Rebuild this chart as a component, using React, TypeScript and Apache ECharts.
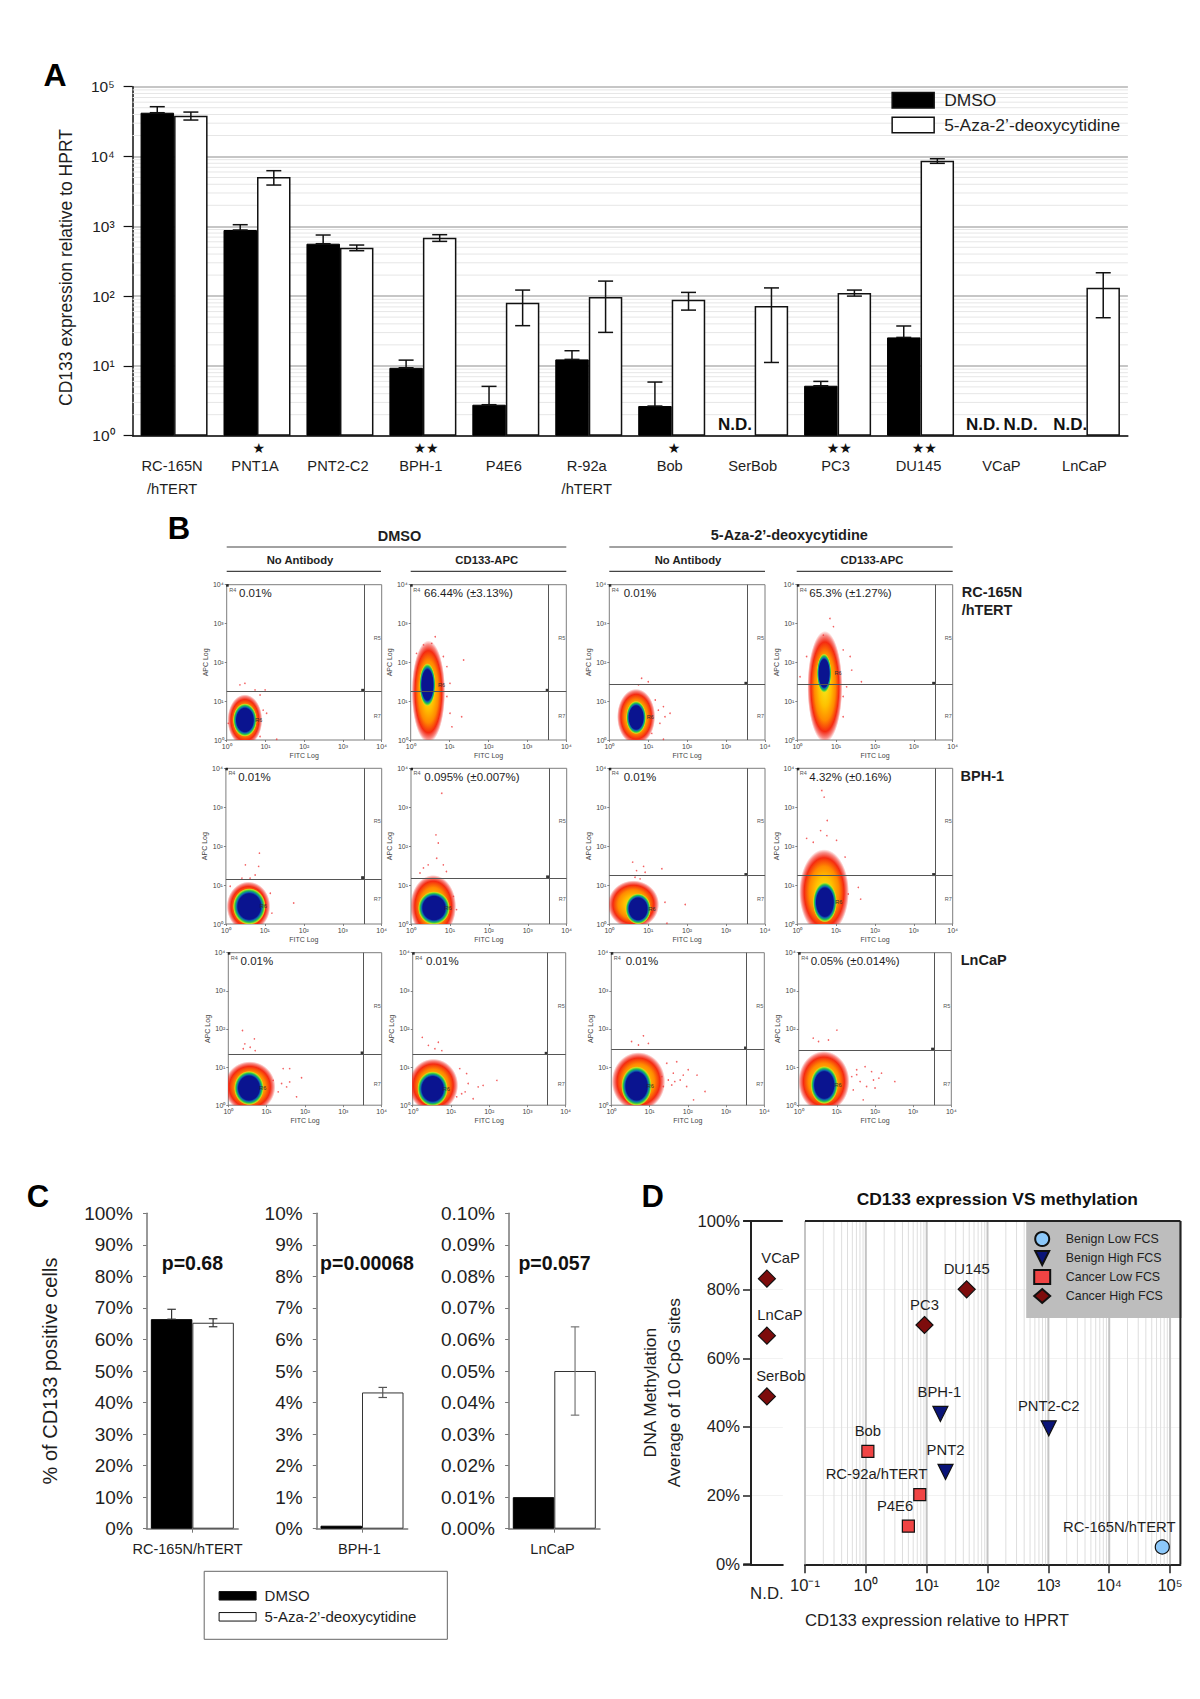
import React, { useEffect, useRef } from "react";
import * as echarts from "echarts";

const FONT = '"Liberation Sans", Arial, sans-serif';
const DMSO = "DMSO";
const AZA = "5-Aza-2’-deoxycytidine";

// Panel A
const cellLines = ["RC-165N\n/hTERT", "PNT1A", "PNT2-C2", "BPH-1", "P4E6", "R-92a\n/hTERT", "Bob", "SerBob", "PC3", "DU145", "VCaP", "LnCaP"];
const dmsoValues = [42400, 885, 563, 9.4, 2.78, 12.4, 2.66, null, 5.2, 25.6, null, null];
const dmsoErrHigh = [51700, 1054, 750, 12.1, 5.09, 16.5, 5.87, null, 6.0, 37.3, null, null];
const azaValues = [38400, 5080, 494, 686, 80.4, 97, 88.8, 72, 110.6, 8710, null, 132];
const azaErrHigh = [43300, 6260, 539, 758, 122, 164, 113, 131, 122, 9290, null, 216];
const azaErrLow = [33300, 3900, 447, 608, 37.7, 30.2, 63, 11.2, 100, 7980, null, 49];
const decades = [1, 10, 100, 1000, 10000];
const minorMultipliers = [2, 3, 4, 5, 6, 7, 8, 9];
const notDetected = "N.D.";
const singleStar = "★";
const doubleStar = "★★";

// Panel B: density contours and stray events, in decades of FITC (x) and APC (y)
const plotPercents = [
  "0.01%", "66.44% (±3.13%)", "0.01%", "65.3% (±1.27%)",
  "0.01%", "0.095% (±0.007%)", "0.01%", "4.32% (±0.16%)",
  "0.01%", "0.01%", "0.01%", "0.05% (±0.014%)",
];
const plotGateY = [1.25, 1.25, 1.43, 1.43, 1.16, 1.18, 1.24, 1.24, 1.34, 1.33, 1.47, 1.44];
const plotGateX = [3.54, 3.54, 3.54, 3.54, 3.54, 3.54, 3.54, 3.54, 3.52, 3.52, 3.54, 3.54];
const plotHalos = [
  [0.47, 0.515, 0.45, 0.66], [0.455, 1.245, 0.43, 1.32], [0.69, 0.6, 0.49, 0.72], [0.71, 1.37, 0.45, 1.44],
  [0.58, 0.45, 0.56, 0.64], [0.57, 0.45, 0.59, 0.81], [0.62, 0.5, 0.66, 0.62], [0.69, 0.82, 0.64, 1.1],
  [0.56, 0.48, 0.67, 0.67], [0.54, 0.52, 0.65, 0.7], [0.71, 0.62, 0.7, 0.77], [0.66, 0.62, 0.67, 0.8],
];
const plotCores = [
  [0.47, 0.515, 0.31, 0.43], [0.43, 1.42, 0.21, 0.56], [0.69, 0.58, 0.26, 0.43], [0.69, 1.72, 0.19, 0.51],
  [0.6, 0.45, 0.42, 0.47], [0.59, 0.41, 0.41, 0.43], [0.74, 0.39, 0.33, 0.4], [0.71, 0.56, 0.31, 0.52],
  [0.54, 0.45, 0.39, 0.45], [0.52, 0.43, 0.4, 0.46], [0.66, 0.5, 0.4, 0.52], [0.67, 0.53, 0.36, 0.5],
];
const plotStrayEvents = [
  [[0.34, 1.42], [0.47, 1.46], [0.73, 1.29], [0.86, 1.16], [0.99, 1.29], [0.94, 0.77], [1.03, 0.69], [0.04, 0.43], [0.86, 0.09], [1.29, 0.02]],
  [[0.63, 2.66], [0.54, 2.49], [0.33, 2.45], [0.15, 2.23], [0.84, 2.15], [0.93, 1.89], [1.36, 2.06], [1.01, 1.46], [0.93, 1.12], [1.01, 0.69], [1.31, 0.6], [1.06, 0.34]],
  [[0.83, 1.59], [0.75, 1.42], [1.0, 1.5], [1.18, 1.03], [1.39, 0.86], [1.56, 0.69], [1.43, 0.6], [1.26, 0.77], [1.3, 0.43], [1.09, 0.17], [1.39, 0.02]],
  [[0.84, 3.13], [0.93, 2.92], [0.67, 2.7], [1.18, 2.32], [1.36, 2.15], [1.4, 1.8], [1.65, 1.5], [1.27, 1.37], [1.18, 1.12], [0.07, 1.63], [0.24, 2.15], [1.18, 0.6]],
  [[0.86, 1.82], [0.84, 1.48], [0.5, 1.52], [0.75, 1.26], [0.62, 1.18], [0.41, 1.18], [1.14, 0.79], [1.74, 0.54], [1.18, 0.28], [0.11, 0.97]],
  [[0.79, 3.36], [0.64, 2.29], [0.7, 2.08], [0.66, 1.69], [0.44, 1.52], [0.83, 1.52], [0.32, 1.44], [0.91, 1.35], [0.23, 1.31], [1.09, 0.71], [1.17, 0.37]],
  [[0.6, 1.59], [0.88, 1.48], [0.7, 1.37], [0.92, 1.33], [1.35, 1.42], [0.66, 1.2], [0.79, 1.16], [1.43, 0.56], [1.95, 0.5], [1.48, 0.02]],
  [[0.63, 3.43], [0.69, 3.26], [0.77, 2.66], [0.6, 2.4], [0.24, 2.2], [0.76, 2.27], [0.41, 2.1], [1.01, 2.15], [1.57, 0.94], [1.63, 0.64], [1.23, 1.72], [1.31, 0.77]],
  [[0.37, 1.96], [0.68, 1.74], [0.43, 1.61], [0.57, 1.52], [0.39, 1.48], [0.7, 1.43], [1.43, 0.96], [1.6, 0.96], [1.91, 0.72], [1.6, 0.61], [1.3, 0.35], [1.78, 0.22], [1.39, 0.57], [1.17, 0.65], [1.52, 0.48]],
  [[0.25, 1.78], [0.41, 1.57], [0.67, 1.65], [0.58, 1.48], [0.76, 1.43], [1.23, 0.96], [1.41, 0.83], [1.45, 0.57], [1.71, 0.48], [1.84, 0.52], [2.2, 0.65], [1.28, 0.3], [1.15, 0.22], [1.58, 0.17], [1.37, 0.35]],
  [[0.84, 1.82], [0.97, 1.62], [0.53, 1.67], [0.71, 1.58], [1.45, 1.1], [1.71, 1.14], [2.01, 0.93], [1.62, 0.84], [1.49, 0.66], [1.8, 0.66], [1.97, 0.49], [1.36, 0.49], [2.15, 0.14], [2.45, 0.36], [1.32, 0.75], [2.24, 0.79], [1.58, 0.53], [1.88, 0.79], [1.66, 0.62]],
  [[0.78, 1.71], [1.0, 1.97], [0.52, 1.67], [0.38, 1.76], [1.52, 0.93], [1.74, 1.01], [2.17, 0.84], [1.96, 0.66], [1.61, 0.62], [1.78, 0.49], [1.43, 0.4], [2.0, 0.45], [2.52, 0.62], [1.39, 0.75], [1.91, 0.88], [1.69, 0.14], [1.52, 0.8], [2.1, 0.71]],
];
const flowTicks = [0, 1, 2, 3, 4];

// Panel C
const positiveCategories = ["RC-165N/hTERT", "BPH-1", "LnCaP"];
const positiveDmso = [66.44, 0.095, 0.01];
const positiveDmsoErr = [3.13, 0.007, 0];
const positiveAza = [65.3, 4.32, 0.05];
const positiveAzaErr = [1.27, 0.16, 0.014];
const positiveMax = [100, 10, 0.1];
const pValues = ["p=0.68", "p=0.00068", "p=0.057"];

// Panel D: [CD133 relative to HPRT, % methylation, name]
const benignLow = [[74500, 5.05, "RC-165N/hTERT"]];
const benignHigh = [[16.8, 43.8, "BPH-1"], [1014, 39.6, "PNT2-C2"], [20.4, 26.9, "PNT2"]];
const cancerLow = [[1.08, 32.9, "Bob"], [7.7, 20.3, "RC-92a/hTERT"], [5, 11.1, "P4E6"]];
const cancerHigh = [[45.4, 80.1, "DU145"], [9.2, 69.7, "PC3"]];
const cancerHighND = [[83.2, "VCaP"], [66.6, "LnCaP"], [48.9, "SerBob"]];
const methylationDecades = [-1, 0, 1, 2, 3, 4, 5];
const labelOffsets: Record<string, number[]> = {
  VCaP: [13.7, -20.3], LnCaP: [13, -20.3], SerBob: [14, -20.3], DU145: [0, -20], PC3: [0, -20.3],
  "BPH-1": [-1, -22.3], "PNT2-C2": [0, -22.3], Bob: [0, -20.7], PNT2: [0, -21.7],
  "RC-92a/hTERT": [-43.3, -20.7], P4E6: [-13.3, -20.3], "RC-165N/hTERT": [-43, -20.3],
};

// layout
const SUP: Record<string, string> = { "-": "⁻", "0": "⁰", "1": "¹", "2": "²", "3": "³", "4": "⁴", "5": "⁵" };
const pow10 = (n: number) => "10" + String(n).split("").map((c) => SUP[c]).join("");
const TEXT = "#1e1e1e";

const haloFill = {
  type: "radial", x: 0.5, y: 0.5, r: 0.5,
  colorStops: [
    { offset: 0, color: "#f6e81a" }, { offset: 0.35, color: "#ffc000" }, { offset: 0.6, color: "#ff8a00" },
    { offset: 0.8, color: "#f52a10" }, { offset: 0.92, color: "rgba(240,30,20,0.5)" }, { offset: 1, color: "rgba(240,30,20,0)" },
  ],
};
const coreFill = {
  type: "radial", x: 0.5, y: 0.5, r: 0.5,
  colorStops: [
    { offset: 0, color: "#0a1490" }, { offset: 0.7, color: "#0a1490" }, { offset: 0.78, color: "#0d6ab0" },
    { offset: 0.86, color: "#22c050" }, { offset: 0.94, color: "#b8e020" }, { offset: 1, color: "rgba(240,230,30,0)" },
  ],
};

function text(t: string, x: number, y: number, size: number, extra: any = {}) {
  const { weight, align, fill, rotation, z, family } = extra;
  return {
    type: "text", x, y, rotation: rotation || 0, z: z || 60, silent: true,
    style: {
      text: t, fontSize: size, fontFamily: family || FONT, fontWeight: weight || "normal", fill: fill || TEXT,
      textAlign: align || "center", textVerticalAlign: "middle", verticalAlign: "middle", align: align || "center",
    },
  };
}
function rule(x1: number, y1: number, x2: number, y2: number, stroke = "#444", lineWidth = 1.2) {
  return { type: "line", z: 60, silent: true, shape: { x1, y1, x2, y2 }, style: { stroke, lineWidth } };
}

function errorRenderer(offset: number, cap: number, color: string, lineWidth: number) {
  return (_: any, api: any) => {
    const cat = api.value(0);
    const x = api.coord([cat, api.value(1)])[0] + api.value(3) * offset;
    const yh = api.coord([cat, api.value(1)])[1];
    const yl = api.coord([cat, api.value(2)])[1];
    const st = { stroke: color, lineWidth };
    return {
      type: "group",
      children: [
        { type: "line", shape: { x1: x, y1: yh, x2: x, y2: yl }, style: st },
        { type: "line", shape: { x1: x - cap / 2, y1: yh, x2: x + cap / 2, y2: yh }, style: st },
        { type: "line", shape: { x1: x - cap / 2, y1: yl, x2: x + cap / 2, y2: yl }, style: st },
      ],
    };
  };
}

function buildOption() {
  const grid: any[] = [];
  const xAxis: any[] = [];
  const yAxis: any[] = [];
  const series: any[] = [];
  const graphic: any[] = [];

  /* ---------- A ---------- */
  const A = { left: 132.6, top: 86.7, width: 995.3, height: 349 };
  grid.push(A);
  xAxis.push({
    type: "category", gridIndex: 0, data: cellLines,
    axisTick: { show: false },
    axisLine: { lineStyle: { color: "#111", width: 1.5 } },
    axisLabel: { interval: 0, fontSize: 14.7, lineHeight: 22.6, margin: 19, color: TEXT, padding: [0, 4, 0, 0] },
  });
  yAxis.push({
    type: "log", logBase: 10, gridIndex: 0, min: 1, max: 100000, splitNumber: 5,
    axisLine: { show: true, lineStyle: { color: "#111", width: 1.5 } },
    axisTick: { show: true, length: 9, lineStyle: { color: "#111", width: 1.2 } },
    axisLabel: { fontSize: 15.5, color: TEXT, margin: 18, formatter: (v: number) => pow10(Math.round(Math.log10(v))) },
    minorTick: { show: false },
    splitLine: { show: true, lineStyle: { color: "#c6c6c6", width: 2 } },
  });
  graphic.push(text("CD133 expression relative to HPRT", 66.4, 267.5, 17.5, { rotation: Math.PI / 2 }));
  const minorLevels: number[][] = [];
  decades.forEach((d) => minorMultipliers.forEach((m) => minorLevels.push([0, d * m])));
  series.push({
    type: "custom", name: "A minor grid", xAxisIndex: 0, yAxisIndex: 0, z: 1, silent: true,
    data: minorLevels, encode: { x: 0, y: 1 },
    renderItem: (params: any, api: any) => {
      const y = api.coord([0, api.value(1)])[1];
      return {
        type: "line",
        shape: { x1: params.coordSys.x, y1: y, x2: params.coordSys.x + params.coordSys.width, y2: y },
        style: { stroke: "#e6e6e6", lineWidth: 1 },
      };
    },
  });
  series.push({
    type: "bar", name: DMSO, xAxisIndex: 0, yAxisIndex: 0, z: 3, barWidth: 33.5, barGap: 0,
    data: dmsoValues, itemStyle: { color: "#000", borderColor: "#000", borderWidth: 1 },
  });
  series.push({
    type: "bar", name: AZA, xAxisIndex: 0, yAxisIndex: 0, z: 3, barWidth: 33.5, barGap: 0,
    data: azaValues, itemStyle: { color: "#fff", borderColor: "#111", borderWidth: 1.5 },
  });
  const aErrors: any[] = [];
  cellLines.forEach((_, i) => {
    if (dmsoErrHigh[i] != null) aErrors.push([i, dmsoErrHigh[i], dmsoValues[i], -1]);
    if (azaErrHigh[i] != null) aErrors.push([i, azaErrHigh[i], azaErrLow[i], 1]);
  });
  series.push({
    type: "custom", name: "A error bars", xAxisIndex: 0, yAxisIndex: 0, z: 4, silent: true,
    data: aErrors, encode: { x: 0, y: [1, 2] }, renderItem: errorRenderer(16.8, 15, "#111", 1.5),
  });
  [[singleStar, 258.9], [doubleStar, 426], [singleStar, 674], [doubleStar, 839.3], [doubleStar, 924.2]].forEach(([s, x]) =>
    graphic.push(text(s as string, x as number, 448.3, 14, { fill: "#111", family: '"DejaVu Sans"' }))
  );
  [735, 982.9, 1020.6, 1070.3].forEach((x) => graphic.push(text(notDetected, x, 424, 17, { weight: "bold", fill: "#111" })));
  graphic.push(text("A", 55, 75, 32, { weight: "bold", fill: "#000" }));

  /* ---------- B ---------- */
  const rowBoxes = [[584.7, 155.3], [768.3, 155.7], [952.7, 152.5]];
  const colBoxes = [
    [[226.7, 155], [410.7, 155.6], [609.3, 155.7], [797.3, 155.4]],
    [[225.9, 155.8], [411, 155.7], [609.3, 155.7], [797.3, 155.4]],
    [[228.3, 153.4], [412.7, 153], [611.3, 153], [798.7, 152.6]],
  ];
  const percentOffsets = [12.3, 13.3, 14.4, 12];
  plotPercents.forEach((pct, i) => {
    const r = Math.floor(i / 4);
    const c = i % 4;
    const [top, height] = rowBoxes[r];
    const [left, width] = colBoxes[r][c];
    const g = grid.length;
    grid.push({ left, top, width, height, show: true, borderColor: "#7d7d7d", borderWidth: 1, backgroundColor: "transparent" });
    const axisCommon = {
      type: "value", gridIndex: g, min: 0, max: 4, interval: 1,
      nameLocation: "middle", nameTextStyle: { fontSize: 7, color: "#444" },
      axisLine: { show: false }, splitLine: { show: false },
      axisTick: { show: true, length: 2, lineStyle: { color: "#666", width: 0.8 } },
      axisLabel: { fontSize: 7, color: "#444", margin: 3, formatter: (v: number) => (flowTicks.includes(v) ? pow10(v) : "") },
    };
    xAxis.push({ ...axisCommon, name: "FITC Log", nameGap: 12 });
    yAxis.push({ ...axisCommon, name: "APC Log", nameGap: 16 });
    const layers = [[...plotHalos[i], 0], [...plotCores[i], 1]];
    series.push({
      type: "custom", name: "Density " + (i + 1), xAxisIndex: g, yAxisIndex: g, z: 2, silent: true, clip: true,
      data: layers, encode: { x: 0, y: 1 },
      renderItem: (_: any, api: any) => {
        const p = api.coord([api.value(0), api.value(1)]);
        const s = api.size([api.value(2), api.value(3)]);
        return {
          type: "ellipse",
          shape: { cx: p[0], cy: p[1], rx: s[0], ry: s[1] },
          style: { fill: api.value(4) === 0 ? haloFill : coreFill },
        };
      },
    });
    series.push({
      type: "scatter", name: "Events " + (i + 1), xAxisIndex: g, yAxisIndex: g, z: 3, silent: true,
      symbolSize: 1.6, itemStyle: { color: "#f0383a" },
      data: [
        ...plotStrayEvents[i],
        { value: [plotGateX[i] - 0.03, plotGateY[i] + 0.03], symbol: "rect", symbolSize: 3, itemStyle: { color: "#000" } },
        { value: [0.02, 3.98], symbol: "rect", symbolSize: 2.5, itemStyle: { color: "#000" } },
      ],
      markLine: {
        silent: true, symbol: "none", label: { show: false }, animation: false,
        lineStyle: { color: "#555", width: 1, type: "solid" },
        data: [{ xAxis: plotGateX[i] }, { yAxis: plotGateY[i] }],
      },
    });
    graphic.push(text(pct, left + percentOffsets[c], top + 8.6, 11.5, { align: "left" }));
    graphic.push(text("R4", left + 6, top + 5, 5.5, { fill: "#555" }));
    graphic.push(text("R5", left + width - 4.5, top + 53, 5.5, { fill: "#555" }));
    graphic.push(text("R7", left + width - 4.5, top + 131, 5.5, { fill: "#555" }));
    graphic.push(
      text("R6", left + ((plotCores[i][0] + 0.36) * width) / 4, top + height - (plotCores[i][1] * height) / 4, 5.5, { fill: "#333" })
    );
  });
  graphic.push(text("B", 179, 528, 31, { weight: "bold", fill: "#000" }));
  graphic.push(text(DMSO, 399.5, 536, 14.5, { weight: "bold" }));
  graphic.push(text(AZA, 789.3, 535, 14.5, { weight: "bold" }));
  graphic.push(rule(226.7, 547, 566.3, 547), rule(609.3, 547, 952.7, 547));
  [[300, 226.7, 381, "No Antibody"], [486.7, 410.7, 566.3, "CD133-APC"], [688, 609.3, 765, "No Antibody"], [872, 796.7, 952.7, "CD133-APC"]].forEach(
    ([cx, x1, x2, s]) => {
      graphic.push(text(s as string, cx as number, 560, 11.3, { weight: "bold" }));
      graphic.push(rule(x1 as number, 571.3, x2 as number, 571.3));
    }
  );
  graphic.push(text("RC-165N", 961.7, 591.7, 14.5, { weight: "bold", align: "left" }));
  graphic.push(text("/hTERT", 961.7, 610, 14.5, { weight: "bold", align: "left" }));
  graphic.push(text("BPH-1", 960.6, 776, 14.5, { weight: "bold", align: "left" }));
  graphic.push(text("LnCaP", 960.7, 960, 14.5, { weight: "bold", align: "left" }));

  /* ---------- C ---------- */
  const cBoxes = [[146.5, 91.7], [316.3, 91.4], [508.6, 91.4]];
  const cErrColors = ["#333", "#555", "#777"];
  const cPValueX = [192.4, 367, 554.5];
  const cLabelPad = [9.6, 5.2, 3.6];
  const C_TOP = 1213.3;
  const C_H = 315.4;
  positiveCategories.forEach((cat, i) => {
    const g = grid.length;
    grid.push({ left: cBoxes[i][0], top: C_TOP, width: cBoxes[i][1], height: C_H });
    const isLn = i === 2;
    xAxis.push({
      type: "category", gridIndex: g, data: [cat],
      axisLine: { lineStyle: { color: "#777", width: 1.5 } },
      axisTick: { show: true, alignWithLabel: true, length: 4, lineStyle: { color: "#777" } },
      axisLabel: { fontSize: 14.5, color: TEXT, margin: 13, padding: [0, cLabelPad[i], 0, 0] },
    });
    yAxis.push({
      type: "value", gridIndex: g, min: 0, max: positiveMax[i], interval: positiveMax[i] / 10,
      name: i === 0 ? "% of CD133 positive cells" : "", nameLocation: "middle", nameGap: 87,
      nameTextStyle: { fontSize: 20, color: TEXT },
      splitLine: { show: false },
      axisLine: { show: true, lineStyle: { color: "#777", width: 1.5 } },
      axisTick: { show: true, length: 3.5, lineStyle: { color: "#777" } },
      axisLabel: {
        fontSize: 19, color: TEXT, margin: 13.7,
        formatter: (v: number) => (isLn ? v.toFixed(2) : String(Math.round(v))) + "%",
      },
    });
    series.push({
      type: "bar", name: DMSO, xAxisIndex: g, yAxisIndex: g, z: 3, barWidth: 41.5, barGap: 0,
      data: [positiveDmso[i]], itemStyle: { color: "#000", borderColor: "#000", borderWidth: 1 },
    });
    series.push({
      type: "bar", name: AZA, xAxisIndex: g, yAxisIndex: g, z: 3, barWidth: 41.5, barGap: 0,
      data: [positiveAza[i]], itemStyle: { color: "#fff", borderColor: "#333", borderWidth: 1 },
    });
    const errs: any[] = [[0, positiveAza[i] + positiveAzaErr[i], positiveAza[i] - positiveAzaErr[i], 1]];
    if (positiveDmsoErr[i] > 0.01) errs.push([0, positiveDmso[i] + positiveDmsoErr[i], positiveDmso[i], -1]);
    series.push({
      type: "custom", name: "C error bars " + (i + 1), xAxisIndex: g, yAxisIndex: g, z: 4, silent: true,
      data: errs, encode: { x: 0, y: [1, 2] }, renderItem: errorRenderer(20.75, 8.5, cErrColors[i], 1.2),
    });
    graphic.push(text(pValues[i], cPValueX[i], 1262.7, 19.5, { weight: "bold", fill: "#111" }));
  });
  graphic.push(text("C", 38, 1196.7, 31, { weight: "bold", fill: "#000" }));

  /* ---------- D ---------- */
  const D_TOP = 1221;
  const D_H = 343.3;
  const gL = grid.length;
  grid.push({ left: 751, top: D_TOP, width: 31.8, height: D_H });
  xAxis.push({
    type: "category", gridIndex: gL, data: [notDetected],
    axisLine: { lineStyle: { color: "#222", width: 2 } }, axisTick: { show: false },
    axisLabel: { fontSize: 16.8, color: TEXT, margin: 20.5 },
  });
  yAxis.push({
    type: "value", gridIndex: gL, min: 0, max: 100, interval: 20,
    name: "DNA Methylation\nAverage of 10 CpG sites", nameLocation: "middle", nameGap: 65,
    nameTextStyle: { fontSize: 17.4, color: TEXT, lineHeight: 24 },
    axisLine: { show: true, lineStyle: { color: "#222", width: 2 } },
    axisTick: { show: true, length: 8, lineStyle: { color: "#222", width: 1.5 } },
    axisLabel: { fontSize: 16.6, color: TEXT, margin: 11, formatter: "{value}%" },
    splitLine: { show: true, lineStyle: { color: "#f2f2f2", width: 1 } },
  });
  const gR = grid.length;
  grid.push({ left: 805, top: D_TOP, width: 375.4, height: D_H });
  xAxis.push({
    type: "value", gridIndex: gR, min: -1, max: 5.17,
    axisLine: { show: true, onZero: false, lineStyle: { color: "#222", width: 2 } },
    axisTick: { show: true, length: 9, lineStyle: { color: "#222", width: 1.5 }, customValues: methylationDecades },
    axisLabel: { fontSize: 16.6, color: TEXT, margin: 13, customValues: methylationDecades, formatter: (v: number) => pow10(Math.round(v)) },
    splitLine: { show: false },
  });
  yAxis.push({
    type: "value", gridIndex: gR, min: 0, max: 100, interval: 20,
    axisLine: { show: false }, axisTick: { show: false }, axisLabel: { show: false },
    splitLine: { show: true, lineStyle: { color: "#f2f2f2", width: 1 } },
  });
  const verticals: number[][] = [];
  methylationDecades.forEach((d) => {
    verticals.push([d, 1]);
    minorMultipliers.forEach((m) => {
      const v = d + Math.log10(m);
      if (v < 5.17) verticals.push([v, 0]);
    });
  });
  series.push({
    type: "custom", name: "D grid", xAxisIndex: gR, yAxisIndex: gR, z: 1, silent: true,
    data: verticals, encode: { x: 0 },
    renderItem: (_: any, api: any) => {
      const a = api.coord([api.value(0), 0]);
      const b = api.coord([api.value(0), 100]);
      const major = api.value(1) === 1;
      return {
        type: "line",
        shape: { x1: a[0], y1: a[1], x2: b[0], y2: b[1] },
        style: { stroke: major ? "#c4c4c4" : "#dedede", lineWidth: major ? 2 : 1 },
      };
    },
  });
  const markers = [
    ["Benign Low FCS", benignLow, "circle", 14, "#8cc8fa", 0],
    ["Benign High FCS", benignHigh, "triangle", 15, "#0a1478", 180],
    ["Cancer Low FCS", cancerLow, "rect", 12, "#f04444", 0],
    ["Cancer High FCS", cancerHigh, "diamond", 17, "#7d0c0c", 0],
  ];
  const pointLabel = (name: string) => ({
    show: true, position: "inside", formatter: name, fontSize: 14.8, color: TEXT, offset: labelOffsets[name],
  });
  markers.forEach(([name, rows, symbol, symbolSize, color, rotate]: any) => {
    series.push({
      type: "scatter", name, xAxisIndex: gR, yAxisIndex: gR, z: 6, symbol, symbolSize, symbolRotate: rotate,
      itemStyle: { color, borderColor: "#111", borderWidth: 1.2, opacity: 1 },
      data: rows.map((r: any) => ({ value: [Math.log10(r[0]), r[1]], name: r[2], label: pointLabel(r[2]) })),
    });
  });
  series.push({
    type: "scatter", name: "Cancer High FCS", xAxisIndex: gL, yAxisIndex: gL, z: 6, symbol: "diamond", symbolSize: 17,
    clip: false,
    itemStyle: { color: "#7d0c0c", borderColor: "#111", borderWidth: 1.2, opacity: 1 },
    data: cancerHighND.map((r: any) => ({ value: [0, r[0]], name: r[1], label: pointLabel(r[1]) })),
  });
  graphic.push(rule(743.2, D_TOP, 782.8, D_TOP, "#222", 2));
  graphic.push(rule(743.2, D_TOP + D_H, 751, D_TOP + D_H, "#222", 2));
  graphic.push(rule(805, D_TOP, 1180.4, D_TOP, "#222", 2));
  graphic.push(rule(1180.4, D_TOP, 1180.4, D_TOP + D_H, "#222", 2));
  graphic.push(text("D", 652.6, 1196.7, 31, { weight: "bold", fill: "#000" }));
  graphic.push(text("CD133 expression VS methylation", 997.3, 1199, 17.4, { weight: "bold", fill: "#111" }));
  graphic.push(text("CD133 expression relative to HPRT", 936.9, 1620.7, 16.7));

  const legendCommon = { orient: "vertical", selectedMode: false, icon: "rect" };
  return {
    animation: false,
    backgroundColor: "#fff",
    textStyle: { fontFamily: FONT },
    grid, xAxis, yAxis, series, graphic,
    legend: [
      {
        ...legendCommon, left: 891.4, top: 91.7, padding: 0, itemWidth: 42, itemHeight: 15.6, itemGap: 7.7, z: 20,
        data: [DMSO, AZA], textStyle: { fontSize: 17.4, color: TEXT, padding: [0, 0, 0, 5] },
        itemStyle: { borderColor: "#111", borderWidth: 1.5 },
      },
      {
        ...legendCommon, left: 204.2, top: 1571.3, padding: [17, 31, 15, 14.4], itemWidth: 37, itemHeight: 8.5, itemGap: 6, z: 20,
        borderColor: "#666", borderWidth: 1,
        data: [DMSO, AZA], textStyle: { fontSize: 15, color: TEXT, padding: [0, 0, 0, 3.5] },
        itemStyle: { borderColor: "#111", borderWidth: 1 },
      },
      {
        orient: "vertical", selectedMode: false, left: 1026.2, top: 1221, padding: [10, 19, 14, 7], itemWidth: 16, itemHeight: 14, itemGap: 3, z: 20,
        backgroundColor: "#bdbdbd",
        data: [
          "Benign Low FCS",
          { name: "Benign High FCS", icon: "path://M0,0L10,0L5,10Z" },
          "Cancer Low FCS",
          "Cancer High FCS",
        ],
        textStyle: { fontSize: 12.4, color: TEXT, padding: [0, 0, 0, 10.6] },
      },
    ],
  };
}

export default function App() {
  const ref = useRef<HTMLDivElement>(null);
  useEffect(() => {
    const chart = echarts.init(ref.current, null, { renderer: "svg" });
    chart.setOption(buildOption());
    return () => chart.dispose();
  }, []);
  return <div ref={ref} style={{ position: "absolute", left: 0, top: 0, width: 1200, height: 1699 }} />;
}
